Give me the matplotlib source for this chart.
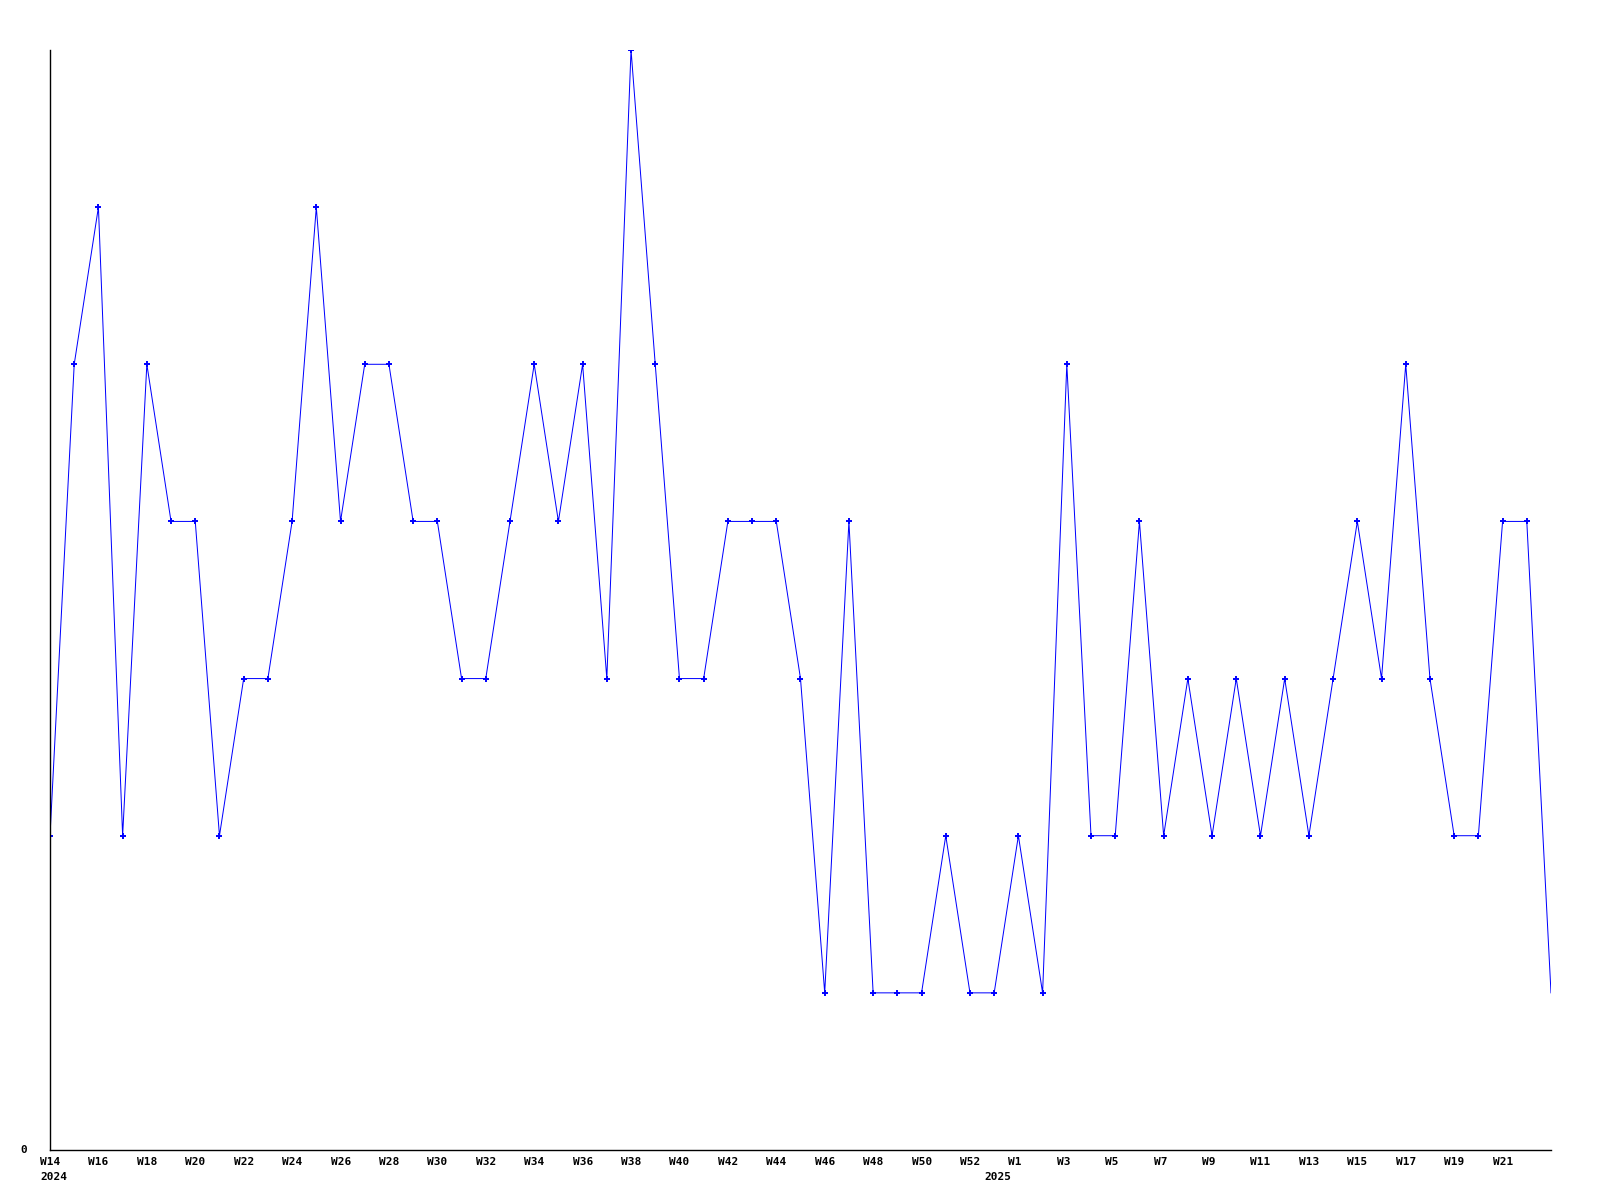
import matplotlib
matplotlib.use("Agg")
import matplotlib.pyplot as plt

# weekly counts, W14 2024 .. W23 2025 (index 39 is the short week at the year change)
weeks = ["W14", "W15", "W16", "W17", "W18", "W19", "W20", "W21", "W22", "W23",
         "W24", "W25", "W26", "W27", "W28", "W29", "W30", "W31", "W32", "W33",
         "W34", "W35", "W36", "W37", "W38", "W39", "W40", "W41", "W42", "W43",
         "W44", "W45", "W46", "W47", "W48", "W49", "W50", "W51", "W52", "W0",
         "W1", "W2", "W3", "W4", "W5", "W6", "W7", "W8", "W9", "W10",
         "W11", "W12", "W13", "W14", "W15", "W16", "W17", "W18", "W19", "W20",
         "W21", "W22", "W23"]
counts = [2, 5, 6, 2, 5, 4, 4, 2, 3, 3,
          4, 6, 4, 5, 5, 4, 4, 3, 3, 4,
          5, 4, 5, 3, 7, 5, 3, 3, 4, 4,
          4, 3, 1, 4, 1, 1, 1, 2, 1, 1,
          2, 1, 5, 2, 2, 4, 2, 3, 2, 3,
          2, 3, 2, 3, 4, 3, 5, 3, 2, 2,
          4, 4, 1]
years = {0: "2024", 39: "2025"}

fig = plt.figure(figsize=(16, 12), dpi=100)
ax = fig.add_axes([50 / 1600, 50 / 1200, 1501 / 1600, 1100 / 1200])

x = list(range(len(counts)))
ax.plot(x, counts, color="#0000ff", linewidth=0.72)
ax.plot(x[:-1], counts[:-1], linestyle="none", marker="+", markersize=4,
        markeredgewidth=1.4, color="#0000ff")

ax.set_xlim(0, len(counts) - 1)
ax.set_ylim(0, 7)
ax.set_xticks([])
ax.set_yticks([])
ax.spines["top"].set_visible(False)
ax.spines["right"].set_visible(False)
ax.spines["left"].set_linewidth(1.0)
ax.spines["bottom"].set_linewidth(1.0)

font = dict(family="DejaVu Sans Mono", weight="bold", size=8)

for i in range(0, len(weeks) - 1, 2):
    ax.annotate(weeks[i], xy=(i, 0), xycoords=("data", "axes fraction"),
                xytext=(-10, -7), textcoords="offset pixels",
                ha="left", va="top", **font)
for i, yr in years.items():
    ax.annotate(yr, xy=(i, 0), xycoords=("data", "axes fraction"),
                xytext=(-10, -22), textcoords="offset pixels",
                ha="left", va="top", **font)

ax.annotate("0", xy=(0, 0), xycoords=("axes fraction", "data"),
            xytext=(-30, 0), textcoords="offset pixels",
            ha="left", va="center", **font)

fig.savefig("out.png", dpi=100)
